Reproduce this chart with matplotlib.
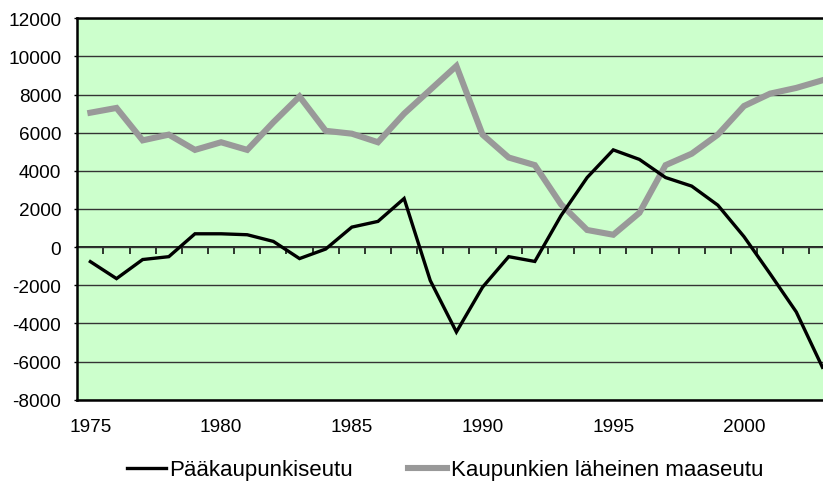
import matplotlib.pyplot as plt
import numpy as np

# --- Data ---
years = list(range(1975, 2004))
paakaupunkiseutu = [-760, -1650, -650, -500, 700, 700, 650, 300, -600, -100,
                    1050, 1350, 2550, -1750, -4450, -2100, -500, -750, 1650, 3650,
                    5100, 4600, 3650, 3200, 2200, 550, -1400, -3400, -6300]
laheinen_maaseutu = [7050, 7300, 5600, 5900, 5100, 5500, 5100, 6550, 7900, 6100,
                     5950, 5500, 7000, 8250, 9500, 5900, 4700, 4300, 2250, 900,
                     650, 1800, 4300, 4900, 5900, 7400, 8050, 8350, 8750]
series_labels = ["Pääkaupunkiseutu", "Kaupunkien läheinen maaseutu"]
x_tick_years = [1975, 1980, 1985, 1990, 1995, 2000]
y_ticks = list(range(-8000, 12001, 2000))

plt.rcParams['font.family'] = ['Liberation Sans', 'DejaVu Sans']

W, H = 823, 485
fig = plt.figure(figsize=(W / 100, H / 100), dpi=100)

# axes runs past the right edge of the picture (the original is cropped there)
left_px, right_px, top_px, bottom_px = 77.3, 835.5, 19.3, 400.7
ax = fig.add_axes([left_px / W, 1 - bottom_px / H,
                   (right_px - left_px) / W, (bottom_px - top_px) / H])
ax.set_facecolor('#CCFFCC')

ax.plot(years, laheinen_maaseutu, color='#999999', lw=4.4, solid_joinstyle='miter',
        label=series_labels[1], zorder=3)
ax.plot(years, paakaupunkiseutu, color='black', lw=2.4, solid_joinstyle='miter',
        label=series_labels[0], zorder=4)

ax.set_xlim(1974.5, 2003.5)
ax.set_ylim(-8000, 12000)

ax.set_yticks(y_ticks)
ax.set_yticklabels([str(v) for v in y_ticks])
ax.yaxis.grid(True, color='#333333', lw=1.0)
ax.set_axisbelow(True)
ax.tick_params(axis='y', length=2, width=1, pad=9.5, labelsize=13.7)

ax.set_xticks(x_tick_years)
ax.set_xticklabels([str(y) for y in x_tick_years])
ax.tick_params(axis='x', length=0, pad=13.5, labelsize=13.7)

for side in ['top', 'bottom', 'left']:
    ax.spines[side].set_linewidth(1.8)
ax.spines['right'].set_visible(False)

# --- x axis line at zero with category tick marks ---
zero_frac = (0 - (-8000)) / (12000 - (-8000))
sec = ax.secondary_xaxis(zero_frac)
sec.set_xticks(np.arange(1975.5, 2003.5, 1.0))
sec.set_xticklabels([])
sec.tick_params(direction='out', length=5, width=1.1, color='black')
sec.spines['bottom'].set_linewidth(1.2)

# --- Legend below the plot ---
handles, labels = ax.get_legend_handles_labels()
order = [1, 0]
fig.legend([handles[i] for i in order], [labels[i] for i in order],
           loc='center', bbox_to_anchor=(445 / W, 1 - 471 / H), ncol=2,
           frameon=False, fontsize=16, handlelength=1.75, handletextpad=0.15,
           columnspacing=2.5, borderpad=0, borderaxespad=0)

plt.savefig('out.png', dpi=100)
